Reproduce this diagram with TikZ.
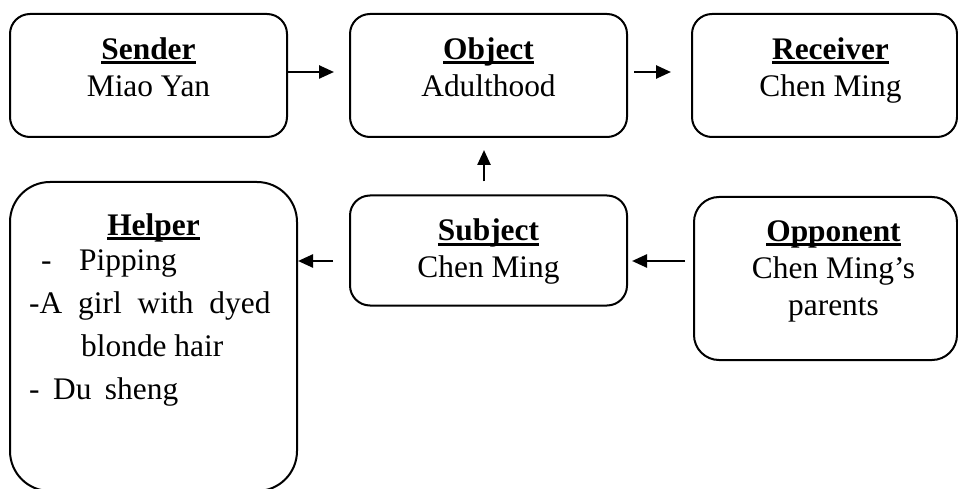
\documentclass[tikz,border=0pt]{standalone}
\usepackage{fontspec}
\setmainfont{Liberation Serif}
\usetikzlibrary{arrows.meta, positioning}
% bold heading with a thick underline
\newcommand{\headword}[1]{\setbox0\hbox{\bfseries #1}\leavevmode\rlap{\rule[-5pt]{\wd0}{3pt}}\box0}
\tikzset{
    actbox/.style={draw, line width=2pt, rounded corners=20pt, minimum width=277pt, minimum height=123pt, inner sep=0pt},
    acttext/.style={anchor=north, align=center, inner sep=0pt, font=\fontsize{31.4}{37}\selectfont},
    actarrow/.style={line width=2.5pt, -{Triangle[length=15pt,width=13pt]}},
}

\begin{document}
\begin{tikzpicture}[x=1pt,y=-1pt]
\useasboundingbox (0,0) rectangle (958,489);

% Top row
\node[actbox] (sender) at (148.5,75.5) {};
\node[actbox] (object) at (488.5,75.5) {};
\node[actbox,minimum width=265pt] (receiver) at (824.5,75.5) {};
\node[acttext,below=24.5pt of sender.north] (sendertxt) {\headword{Sender}\\Miao Yan};
\node[acttext,below=24.5pt of object.north] (objecttxt) {\headword{Object}\\Adulthood};
\node[acttext,below=24.5pt of receiver.north,xshift=6pt] (receivertxt) {\headword{Receiver}\\Chen Ming};

% Bottom row
\node[actbox,minimum height=110pt] (subject) at (488.5,250.5) {};
\node[actbox,minimum width=263pt,minimum height=163pt,rounded corners=25pt] (opponent) at (825.5,278.5) {};
\node[actbox,minimum width=287pt,minimum height=309pt,rounded corners=40pt] (helper) at (153.5,336.5) {};
\node[acttext,below=24.5pt of subject.north] (subjecttxt) {\headword{Subject}\\Chen Ming};
\node[acttext,below=24.5pt of opponent.north,xshift=8pt] (opponenttxt) {\headword{Opponent}\\Chen Ming’s\\parents};
\node[acttext,below=32.5pt of helper.north] (helpertitle) {\headword{Helper}};
\node[acttext,anchor=north west,align=left,font=\fontsize{31.4}{43}\selectfont] (helperlist) at ([xshift=20pt,yshift=-68.5pt]helper.north west)
  {\hspace*{12pt}-\hspace{27.5pt}Pipping\\{\spaceskip=15.9pt -A girl with dyed}\\\hspace*{52pt}blonde hair\\{\spaceskip=13.5pt - Du sheng}};

% Arrows
\coordinate (arrowrow) at ([yshift=-10.5pt]subject.center);
\draw[actarrow] ([yshift=3.5pt]sender.east) -- ([xshift=-15pt,yshift=3.5pt]object.west);
\draw[actarrow] ([xshift=6pt,yshift=3.5pt]object.east) -- ([xshift=-20pt,yshift=3.5pt]receiver.west);
\draw[actarrow] ([xshift=-4.5pt,yshift=13pt]subject.north) -- ([xshift=-4.5pt,yshift=-12pt]object.south);
\draw[actarrow] ([xshift=-16pt]subject.west |- arrowrow) -- (helper.east |- arrowrow);
\draw[actarrow] ([xshift=-8pt]opponent.west |- arrowrow) -- ([xshift=4pt]subject.east |- arrowrow);
\end{tikzpicture}
\end{document}
